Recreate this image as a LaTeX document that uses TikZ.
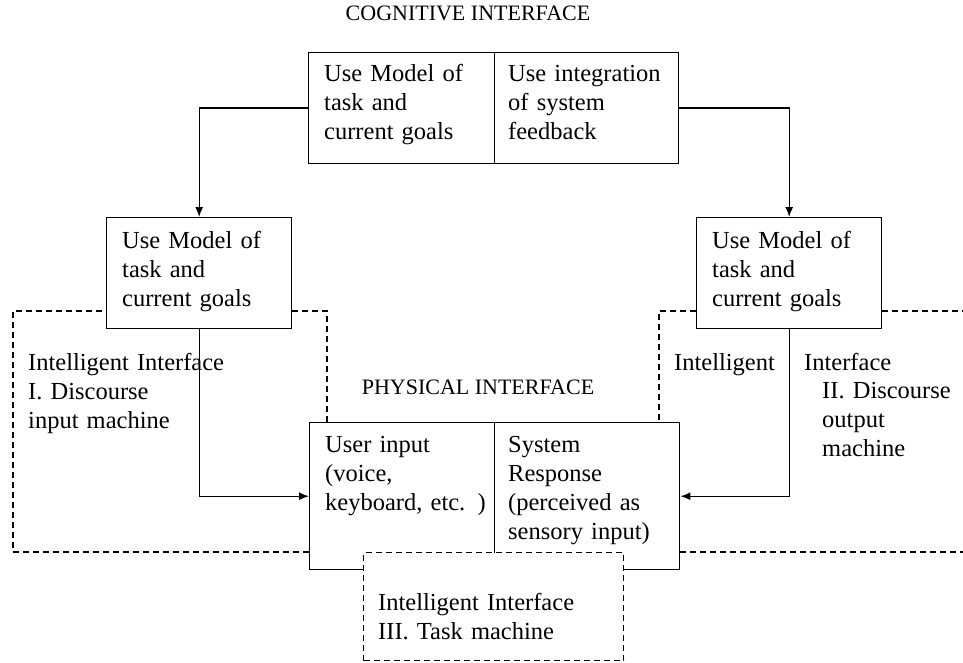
\documentclass[tikz,border=0pt]{standalone}
\usepackage{fontspec}
\setmainfont{Liberation Serif}
\usetikzlibrary{arrows.meta}

\tikzset{
  box/.style={draw, line width=1.4pt, inner sep=0pt, anchor=north west},
  dbox/.style={box, line width=1.2pt, dash pattern=on 6pt off 4pt, fill=white},
  txt/.style={anchor=base west, inner sep=0pt, text width=300pt, align=left,
    font=\fontsize{24.5}{29}\selectfont},
  ttl/.style={anchor=base, inner sep=0pt, font=\fontsize{22}{26}\selectfont},
  arrow/.style={line width=1.4pt, -{Latex[length=10pt,width=8pt]}},
  dashline/.style={line width=1.2pt, dash pattern=on 6pt off 4pt}
}

\begin{document}
\begin{tikzpicture}[x=1pt,y=-1pt]
\useasboundingbox (0,0) rectangle (963,663);

\node[ttl] (cogtitle) at (468,21) {COGNITIVE INTERFACE};
\node[ttl] (phystitle) at (478,394) {PHYSICAL INTERFACE};

\node[box, minimum width=186pt, minimum height=111pt] (cogL) at (308,52) {};
\node[box, minimum width=184pt, minimum height=111pt] (cogR) at (494,52) {};
\node[box, minimum width=185pt, minimum height=111pt] (modelL) at (106,217) {};
\node[box, minimum width=185pt, minimum height=111pt] (modelR) at (696,217) {};
\node[box, minimum width=185pt, minimum height=147pt] (userIn) at (309,422) {};
\node[box, minimum width=185pt, minimum height=147pt] (sysResp) at (494,422) {};

\node[txt] (cogLt) at ([shift={(16,30)}]cogL.north west) {Use Model of\\task and\\current goals};
\node[txt] (cogRt) at ([shift={(14,30)}]cogR.north west) {Use integration\\of system\\feedback};
\node[txt] (modelLt) at ([shift={(16,31)}]modelL.north west) {Use Model of\\task and\\current goals};
\node[txt] (modelRt) at ([shift={(16,31)}]modelR.north west) {Use Model of\\task and\\current goals};
\node[txt] (userInt) at ([shift={(16,30)}]userIn.north west) {User input\\(voice,\\keyboard, etc. )};
\node[txt] (sysRespt) at ([shift={(14,30)}]sysResp.north west) {System\\Response\\(perceived as\\sensory input)};

\draw[arrow] (cogL.west) -| (modelL.north);
\draw[arrow] (cogR.east) -| (modelR.north);
\draw[arrow] (modelL.south) |- (userIn.west);
\draw[arrow] (modelR.south) |- (sysResp.east);

\coordinate (lb) at (13,552);
\coordinate (lt) at (13,311);
\coordinate (lr) at (327,311);
\coordinate (rl) at (659,311);
\coordinate (re) at (963,311);
\coordinate (rb) at (963,552);

\draw[dashline] (userIn.west |- lb) -- (lb) -- (lt) -- (modelL.west |- lt);
\draw[dashline] (modelL.east |- lr) -- (lr) -- (lr |- userIn.north);
\draw[dashline] (modelR.west |- rl) -- (rl) -- (rl |- sysResp.north);
\draw[dashline] (modelR.east |- re) -- (re);
\draw[dashline] (sysResp.east |- rb) -- (rb);

\node[dbox, minimum width=260pt, minimum height=108pt] (task) at (363,552) {};
\node[txt] (taskt) at ([shift={(15,58)}]task.north west) {Intelligent Interface\\III.\ Task machine};

\node[txt] (discIn) at (28,370) {Intelligent Interface\\I. Discourse\\input machine};
\node[txt] (intR) at (674,370) {Intelligent};
\node[txt] (ifaceR) at (804,370) {Interface};
\node[txt] (discOut) at (822,398) {II. Discourse\\output\\machine};
\end{tikzpicture}
\end{document}
